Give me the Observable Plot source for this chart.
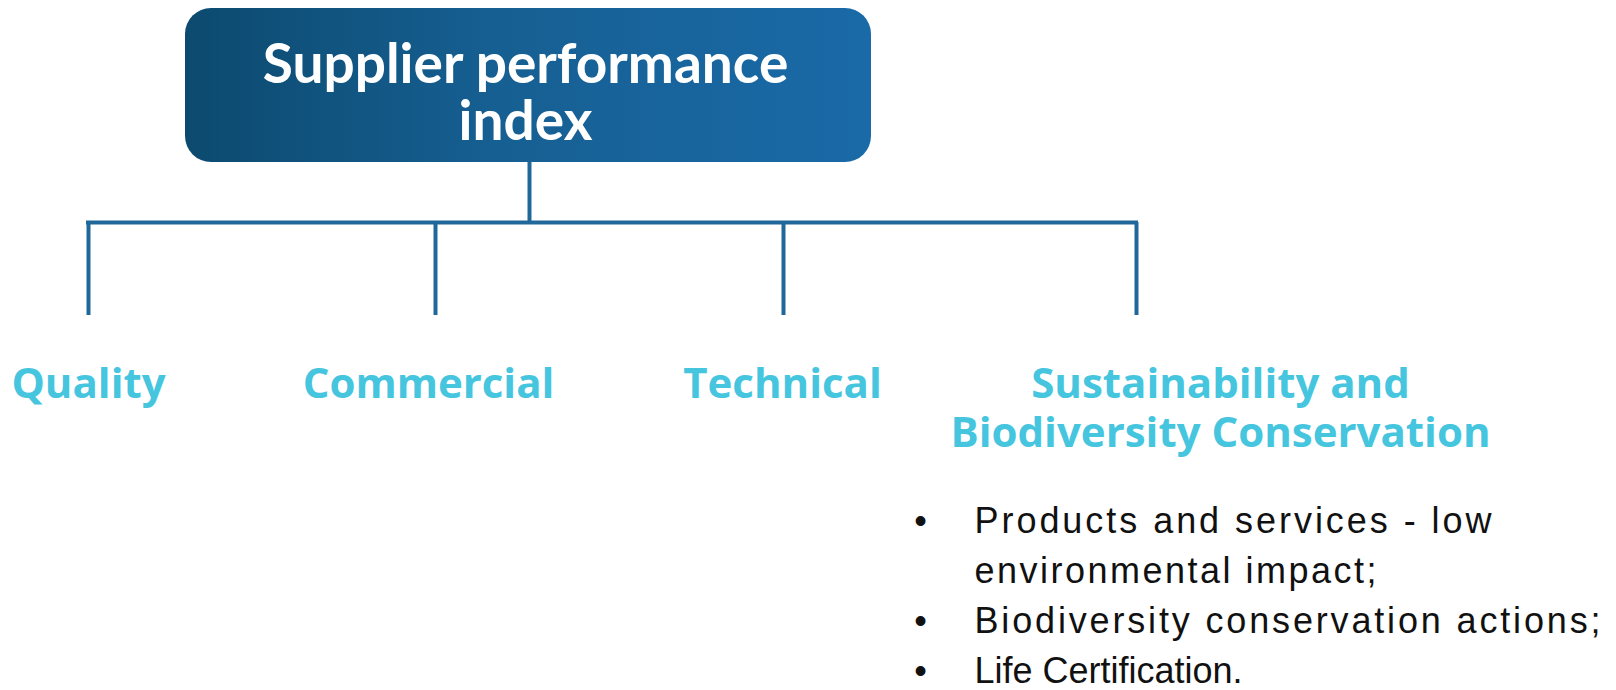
<!DOCTYPE html>
<html><head><meta charset="utf-8">
<script src="https://cdn.jsdelivr.net/npm/d3@7"></script>
<script src="https://cdn.jsdelivr.net/npm/@observablehq/plot@0.6"></script>
<style>
html,body{margin:0;padding:0;background:#fff;}
#chart svg{display:block;}
</style></head><body><div id="chart"></div>
<script>
// ---- content ----
const rootLines = ["Supplier performance", "index"];
const categoryLines = [["Quality"], ["Commercial"], ["Technical"], ["Sustainability and", "Biodiversity Conservation"]];
const bulletItems = [["Products and services - low", "environmental impact;"], ["Biodiversity conservation actions;"], ["Life Certification."]];

// ---- layout (pixels) ----
const W = 1616, H = 690;
const box = {x1: 185, x2: 871, y1: 8, y2: 162, r: 26};
const rootX = 529;
const busY = 222, stemBottom = 315;
const colX = [88, 435, 783, 1136];
const labelX = [88, 428, 782, 1220];
const labelY0 = 397, labelLH = 49;
const titleX = 525, titleY0 = 82, titleLH = 57;
const bulletX = 920, bulletTextX = 974, bulletY0 = 532, bulletLH = 50;
const bulletLineWidths = [517, 402, 626, 268];
const lineColor = "#20689a", labelColor = "#46c5df";

// derived records
const titleRows = rootLines.map((t, i) => ({t, x: titleX, y: titleY0 + i * titleLH}));
const labelRows = categoryLines.flatMap((lines, c) => lines.map((t, i) => ({t, x: labelX[c], y: labelY0 + i * labelLH})));
let k = 0;
const bulletRows = [], bulletDots = [];
bulletItems.forEach(lines => {
  bulletDots.push({x: bulletX, y: bulletY0 + k * bulletLH});
  lines.forEach(t => { bulletRows.push({t, x: bulletTextX, y: bulletY0 + k * bulletLH, w: bulletLineWidths[k]}); k++; });
});
const stems = colX.map(x => ({x, y1: busY, y2: stemBottom}));

const gradient = () => {
  const defs = d3.create("svg:defs");
  const g = defs.append("linearGradient").attr("id", "boxGrad").attr("x1", "0").attr("x2", "1").attr("y1", "0").attr("y2", "0");
  g.append("stop").attr("offset", "0%").attr("stop-color", "#0c4a6f");
  g.append("stop").attr("offset", "45%").attr("stop-color", "#165f92");
  g.append("stop").attr("offset", "100%").attr("stop-color", "#1a6aa8");
  return defs.node();
};

const chart = Plot.plot({
  width: W, height: H,
  margin: 0,
  x: {type: "linear", domain: [0, W], range: [0, W], axis: null},
  y: {type: "linear", domain: [0, H], range: [0, H], axis: null},
  marks: [
    gradient,
    Plot.rect([box], {x1: "x1", x2: "x2", y1: "y1", y2: "y2", rx: box.r, ry: box.r, fill: "url(#boxGrad)"}),
    Plot.ruleX([rootX], {x: d => d, y1: box.y2, y2: busY, stroke: lineColor, strokeWidth: 4}),
    Plot.ruleY([busY], {y: d => d, x1: colX[0] - 2, x2: colX[3] + 2, stroke: lineColor, strokeWidth: 4}),
    Plot.ruleX(stems, {x: "x", y1: "y1", y2: "y2", stroke: lineColor, strokeWidth: 4}),
    Plot.text(titleRows, {x: "x", y: "y", text: "t", lineAnchor: "bottom", fill: "white", fontSize: 55, fontWeight: "bold", fontFamily: "Lato"}),
    Plot.text(labelRows, {x: "x", y: "y", text: "t", lineAnchor: "bottom", fill: labelColor, fontSize: 42, fontWeight: "bold", fontFamily: "Open Sans"}),
    Plot.text(bulletDots, {x: "x", y: "y", text: () => "•", lineAnchor: "bottom", fill: "#111", fontSize: 36, fontFamily: "Liberation Sans"}),
    Plot.text(bulletRows, {x: "x", y: "y", text: "t", textAnchor: "start", lineAnchor: "bottom", fill: "#111", fontSize: 36, fontFamily: "Liberation Sans"})
  ]
});
// justify the bullet lines to their measured widths
const widthByText = new Map(bulletRows.map(r => [r.t, r.w]));
chart.querySelectorAll("text").forEach(el => {
  const w = widthByText.get(el.textContent);
  if (w) { el.setAttribute("textLength", w); el.setAttribute("lengthAdjust", "spacing"); }
});
document.getElementById("chart").appendChild(chart);
</script>
</body></html>
